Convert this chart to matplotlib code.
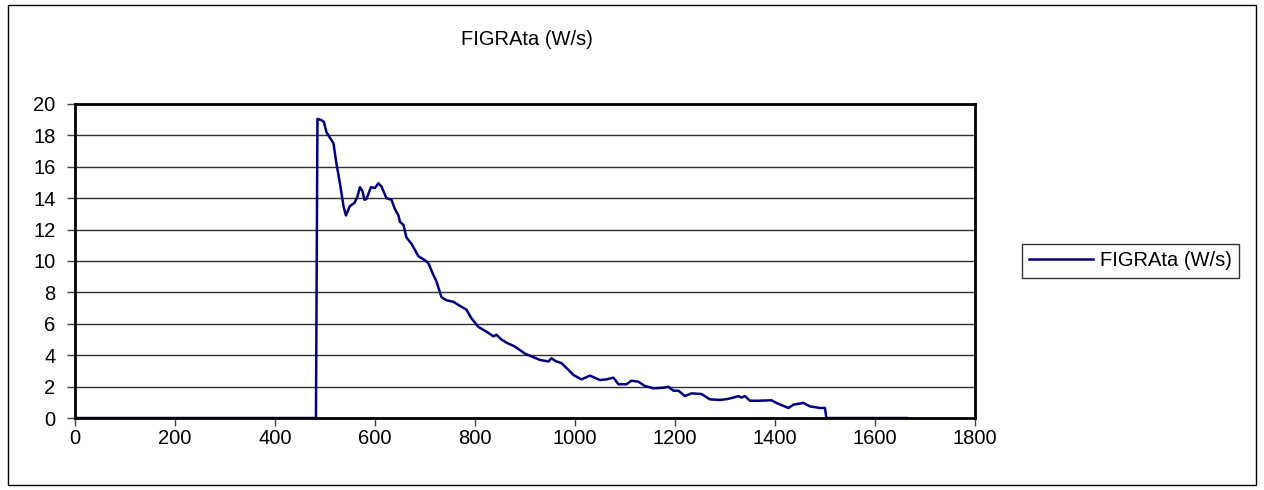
import matplotlib.pyplot as plt
from matplotlib.patches import Rectangle

plt.rcParams['font.family'] = ['Liberation Sans', 'DejaVu Sans']

# time (s) and FIGRA values
time_s = [0, 482, 485, 493, 498, 503, 510, 517, 523, 530, 537, 542, 550, 559, 565,
          570, 575, 579, 583, 592, 600, 607, 613, 623, 633, 640, 647, 650, 657, 663,
          673, 687, 700, 707, 717, 723, 733, 743, 757, 767, 783, 793, 807, 823, 837,
          843, 853, 863, 880, 900, 930, 947, 953, 963, 973, 987, 997, 1013, 1030, 1050,
          1063, 1077, 1087, 1103, 1113, 1127, 1140, 1157, 1177, 1187, 1197, 1207, 1220,
          1233, 1253, 1270, 1290, 1303, 1317, 1327, 1333, 1340, 1350, 1367, 1393, 1403,
          1427, 1437, 1457, 1470, 1490, 1500, 1503, 1663]
figra = [0, 0, 19.05, 18.97, 18.85, 18.2, 17.85, 17.5, 16.2, 14.95, 13.5, 12.9, 13.5,
         13.7, 14.1, 14.7, 14.45, 13.9, 13.95, 14.7, 14.65, 14.95, 14.75, 14.0, 13.9,
         13.3, 12.9, 12.5, 12.3, 11.5, 11.1, 10.3, 10.05, 9.85, 9.1, 8.7, 7.7, 7.5, 7.4,
         7.2, 6.9, 6.35, 5.8, 5.5, 5.2, 5.3, 5.0, 4.8, 4.55, 4.1, 3.7, 3.6, 3.8, 3.6,
         3.5, 3.06, 2.74, 2.46, 2.7, 2.42, 2.46, 2.57, 2.15, 2.15, 2.38, 2.31, 2.04,
         1.89, 1.93, 1.99, 1.74, 1.74, 1.4, 1.57, 1.53, 1.19, 1.15, 1.2, 1.3, 1.4, 1.3,
         1.4, 1.1, 1.1, 1.13, 0.96, 0.64, 0.85, 0.96, 0.74, 0.64, 0.64, 0, 0]

fig = plt.figure(figsize=(12.64, 4.9), dpi=100)
ax = fig.add_axes([0.0593, 0.1469, 0.7120, 0.6409])

ax.plot(time_s, figra, color='#000080', linewidth=1.8, label='FIGRAta (W/s)')

ax.set_xlim(0, 1800)
ax.set_ylim(0, 20)
ax.set_xticks(range(0, 1801, 200))
ax.set_yticks(range(0, 21, 2))
ax.yaxis.grid(True, color='#303030', linewidth=1)
ax.set_axisbelow(True)
ax.tick_params(labelsize=14.5, direction='out', length=6, width=1, color='#404040')
ax.tick_params(axis='y', pad=8)
ax.tick_params(axis='x', pad=2)
for s in ax.spines.values():
    s.set_linewidth(2)
    s.set_color('black')

fig.text(0.417, 0.92, 'FIGRAta (W/s)', ha='center', va='center', fontsize=14.5)

leg = ax.legend(loc='center left', bbox_to_anchor=(1.052, 0.5), fontsize=14.5,
                frameon=True, fancybox=False, handlelength=3.2, handletextpad=0.35,
                borderpad=0.35, borderaxespad=0)
leg.get_frame().set_edgecolor('black')
leg.get_frame().set_linewidth(1)

fig.patches.append(Rectangle((0.006, 0.01), 0.988, 0.98, transform=fig.transFigure,
                             fill=False, edgecolor='black', linewidth=1))

fig.savefig('out.png', dpi=100)
